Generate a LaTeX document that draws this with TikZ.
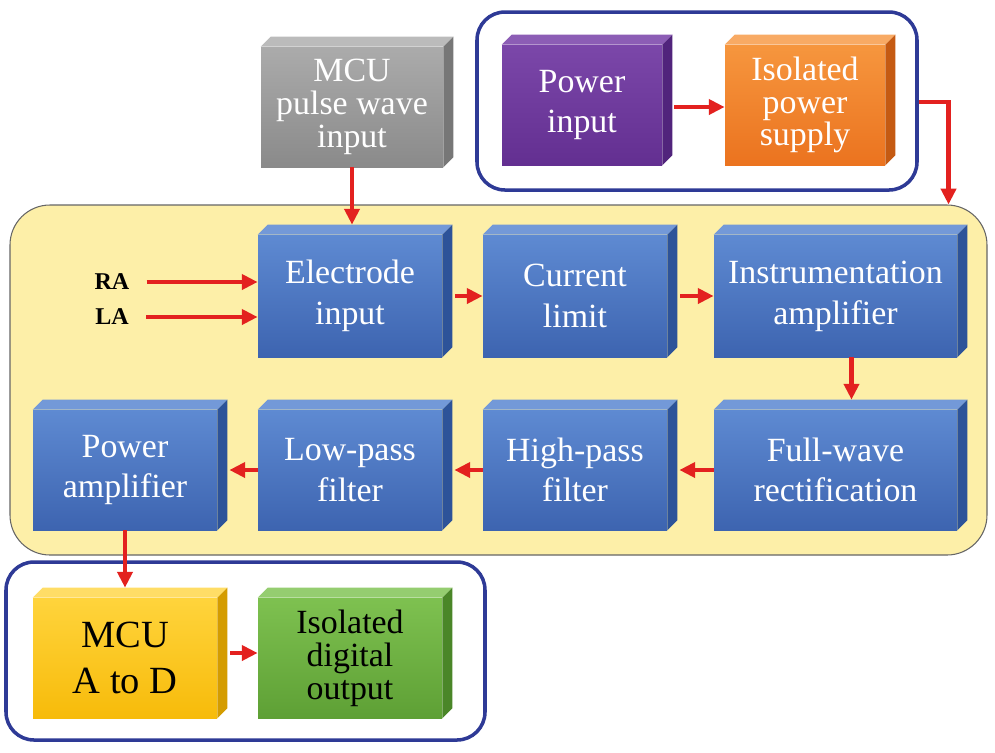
\documentclass[tikz,border=0pt]{standalone}
\usepackage{fontspec}
\setmainfont{Liberation Serif}
\usetikzlibrary{arrows.meta,calc}
\definecolor{arrred}{HTML}{E3211F}
\definecolor{grpblue}{HTML}{2E3A96}
\definecolor{yelbg}{HTML}{FDEFA8}
\definecolor{bltop}{HTML}{5E8AD2}
\definecolor{blbot}{HTML}{3D64B0}
\definecolor{blside}{HTML}{2D5399}
\definecolor{blface}{HTML}{7399D8}
\definecolor{grtop}{HTML}{ABABAB}
\definecolor{grbot}{HTML}{8A8A8A}
\definecolor{grside}{HTML}{777777}
\definecolor{grface}{HTML}{BBBBBB}
\definecolor{putop}{HTML}{7B47A9}
\definecolor{pubot}{HTML}{632F91}
\definecolor{puside}{HTML}{51247C}
\definecolor{puface}{HTML}{8C5DB5}
\definecolor{ortop}{HTML}{F6963E}
\definecolor{orbot}{HTML}{EB731F}
\definecolor{orside}{HTML}{C55A12}
\definecolor{orface}{HTML}{F8AA64}
\definecolor{yetop}{HTML}{FFD43C}
\definecolor{yebot}{HTML}{F7BB0A}
\definecolor{yeside}{HTML}{D49C00}
\definecolor{yeface}{HTML}{FFDD66}
\definecolor{gntop}{HTML}{7EC150}
\definecolor{gnbot}{HTML}{5EA035}
\definecolor{gnside}{HTML}{4A8628}
\definecolor{gnface}{HTML}{95CD70}
\tikzset{
  front/.style={rectangle, inner sep=0pt, align=center, text=white,
    font=\fontsize{19.3}{23.2}\selectfont},
  threeline/.style={font=\fontsize{19.3}{18.7}\selectfont},
  bx/.style 2 args={minimum width=#1*0.02cm, minimum height=#2*0.02cm},
  bluebox/.style={front, top color=bltop, bottom color=blbot},
  graybox/.style={front, top color=grtop, bottom color=grbot},
  purplebox/.style={front, top color=putop, bottom color=pubot},
  orangebox/.style={front, top color=ortop, bottom color=orbot},
  yellowbox/.style={front, top color=yetop, bottom color=yebot, text=black},
  greenbox/.style={front, top color=gntop, bottom color=gnbot, text=black},
  grp/.style={draw=grpblue, line width=2pt, rounded corners=0.56cm, inner sep=0pt},
  arr/.style={draw=arrred, line width=2.6pt, -{Triangle[length=9pt,width=8.5pt]}},
  lbl/.style={inner sep=0pt, font=\bfseries\fontsize{13.7}{16}\selectfont},
}
\newcommand\boxfaces[3]{%
  \fill[#2] (#1.north west) -- ++(10,-10) -- ($(#1.north east)+(10,-10)$) -- (#1.north east) -- cycle;
  \fill[#3] (#1.north east) -- ++(10,-10) -- ($(#1.south east)+(10,-10)$) -- (#1.south east) -- cycle;
}
\begin{document}
\begin{tikzpicture}[x=0.02cm, y=-0.02cm]
\useasboundingbox[fill=white] (0,0) rectangle (995,752);
% group frames
\node[grp, bx={977}{350}, fill=yelbg, draw=black!60, line width=0.6pt, rounded corners=0.8cm] (yel) at (498.5,380) {};
\node[grp, bx={440}{178}] (topgrp) at (697,101) {};
\node[grp, bx={479}{178}] (botgrp) at (245.5,651) {};
% boxes
\node[graybox, threeline, bx={182}{120}] (mcu) at (352,107) {MCU\\pulse wave\\input};
\boxfaces{mcu}{grface}{grside}
\node[purplebox, bx={160}{120}] (pin) at (582,105) {Power\\input};
\boxfaces{pin}{puface}{puside}
\node[orangebox, threeline, bx={160}{120}] (iso) at (805,105) {Isolated\\power\\supply};
\boxfaces{iso}{orface}{orside}
\node[bluebox, bx={184}{122}] (elec) at (350,296) {Electrode\\input};
\boxfaces{elec}{blface}{blside}
\node[bluebox, bx={184}{122}] (cur) at (575,296) {Current\\limit};
\boxfaces{cur}{blface}{blside}
\node[bluebox, bx={243}{122}] (inst) at (835.5,296) {Instrumentation\\amplifier};
\boxfaces{inst}{blface}{blside}
\node[bluebox, bx={243}{120}] (full) at (835.5,470) {Full-wave\\rectification};
\boxfaces{full}{blface}{blside}
\node[bluebox, bx={184}{120}] (high) at (575,470) {High-pass\\filter};
\boxfaces{high}{blface}{blside}
\node[bluebox, bx={184}{120}] (low) at (350,470) {Low-pass\\filter};
\boxfaces{low}{blface}{blside}
\node[bluebox, bx={184}{120}] (pamp) at (125,470) {Power\\amplifier};
\boxfaces{pamp}{blface}{blside}
\node[yellowbox, bx={184}{120}, font=\fontsize{21.9}{26.6}\selectfont] (adc) at (125,658) {MCU\\A to D};
\boxfaces{adc}{yeface}{yeside}
\node[greenbox, threeline, bx={184}{120}] (dig) at (350,658) {Isolated\\digital\\output};
\boxfaces{dig}{gnface}{gnside}
% labels
\node[lbl] (ra) at (112,282) {RA};
\node[lbl] (la) at (112,317) {LA};
% arrows
\draw[arr] (mcu.south) -- ($(mcu.south |- elec.north)+(0,-10)$);
\draw[arr] ($(ra.east)+(17,0)$) -- (ra.east -| elec.west);
\draw[arr] ($(la.east)+(17,0)$) -- (la.east -| elec.west);
\draw[arr] ($(elec.east)+(13,0)$) -- (cur.west);
\draw[arr] ($(cur.east)+(13,0)$) -- (inst.west);
\draw[arr] ($(inst.south)+(16,0)$) -- ($(full.north)+(16,-10)$);
\draw[arr] (full.west) -- ($(high.east)+(12,0)$);
\draw[arr] (high.west) -- ($(low.east)+(12,0)$);
\draw[arr] (low.west) -- ($(pamp.east)+(12,0)$);
\draw[arr] (pamp.south) -- ($(adc.north)+(0,-10)$);
\draw[arr] ($(adc.east)+(13,-5)$) -- ($(dig.west)+(0,-5)$);
\draw[arr] ($(pin.east)+(12,2)$) -- ($(iso.west)+(0,2)$);
\draw[arr] ($(topgrp.east)+(0,1)$) -| ($(yel.north east)+(-39,0)$);
\end{tikzpicture}
\end{document}
